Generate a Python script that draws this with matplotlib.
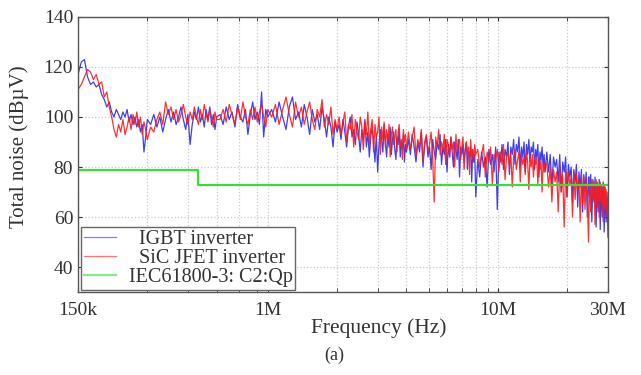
import numpy as np
import matplotlib
matplotlib.use('Agg')
import matplotlib.pyplot as plt
from matplotlib.ticker import FixedLocator, NullFormatter

# Measurement frequencies (kHz), shared by both inverters
FREQ_KHZ = [
    150, 155, 160, 165, 170, 175, 180, 185, 190, 195, 200, 205, 210, 215, 220, 225,
    230, 235, 240, 245, 250, 255, 260, 265, 270, 275, 280, 285, 290, 295, 300,
    310, 320, 330, 340, 350, 360, 370, 380, 390, 400, 410, 420, 430, 440, 450,
    460, 470, 480, 490, 500, 510, 520, 530, 540, 550, 560, 570, 580, 590, 600,
    620, 640, 660, 680, 700, 720, 740, 760, 780, 800, 820, 840, 860, 880, 900,
    920, 940, 960, 980, 1000,
    1040, 1080, 1120, 1160, 1200, 1240, 1280, 1320, 1360, 1400, 1440, 1480, 1520,
    1560, 1600, 1640, 1680, 1720, 1760, 1800, 1840, 1880, 1920, 1960, 2000,
    2040, 2080, 2120, 2160, 2200, 2240, 2280, 2320, 2360, 2400,
    2440, 2480, 2520, 2560, 2600, 2640, 2680, 2720, 2760, 2800,
    2840, 2880, 2920, 2960, 3000, 3040, 3080, 3120, 3160, 3200,
    3240, 3280, 3320, 3360, 3400, 3440, 3480, 3520, 3560, 3600,
    3640, 3680, 3720, 3760, 3800, 3840, 3880, 3920, 3960, 4000,
    4080, 4160, 4240, 4320, 4400, 4480, 4560, 4640, 4720, 4800,
    4880, 4960, 5040, 5120, 5200, 5280, 5360, 5440, 5520, 5600,
    5680, 5760, 5840, 5920, 6000, 6080, 6160, 6240, 6320, 6400,
    6480, 6560, 6640, 6720, 6800, 6880, 6960, 7040, 7120, 7200,
    7280, 7360, 7440, 7520, 7600, 7680, 7760, 7840, 7920, 8000,
    8160, 8320, 8480, 8640, 8800, 8960, 9120, 9280, 9440, 9600,
    9760, 9920, 10080, 10240, 10400, 10560, 10720, 10880, 11040, 11200,
    11360, 11520, 11680, 11840, 12000, 12160, 12320, 12480, 12640, 12800,
    12960, 13120, 13280, 13440, 13600, 13760, 13920, 14080, 14240, 14400,
    14560, 14720, 14880, 15040, 15200, 15360, 15520, 15680, 15840, 16000,
    16280, 16560, 16840, 17120, 17400, 17680, 17960, 18240, 18520, 18800,
    19080, 19360, 19640, 19920, 20200, 20480, 20760, 21040, 21320, 21600,
    21880, 22160, 22440, 22720, 23000, 23280, 23560, 23840, 24120, 24400,
    24680, 24960, 25240, 25520, 25800, 26080, 26360, 26640, 26920, 27200,
    27480, 27760, 28040, 28320, 28600, 28880, 29160, 29440, 29720, 30000,
]

# Total noise (dBuV)
IGBT_DB = [
    117, 122, 123, 116, 113, 114, 112, 113, 109, 107, 104, 106, 102, 100, 103, 101,
    99, 102, 100, 103, 98, 101, 97, 100, 96, 99, 94, 97, 86, 92, 99,
    97, 101, 96, 100, 94, 99, 103, 98, 102, 97, 100, 104, 99, 95, 101,
    89, 97, 102, 99, 104, 98, 101, 96, 103, 99, 104, 97, 101, 95, 100,
    101, 97, 104, 99, 102, 96, 105, 100, 98, 103, 93, 101, 106, 99, 102,
    97, 110, 92, 103, 100,
    103, 98, 106, 100, 95, 104, 108, 99, 102, 96, 105, 100, 93,
    103, 98, 101, 95, 104, 99, 92, 100, 96, 88, 98, 94,
    97, 91, 99, 94, 88, 96, 100, 92, 95, 89,
    98, 93, 86, 95, 91, 99, 88, 94, 84, 92,
    96, 90, 82, 93, 78, 89, 95, 91, 86, 97,
    90, 84, 93, 88, 96, 85, 91, 94, 87, 83,
    92, 89, 95, 84, 90, 87, 93, 82, 89, 86,
    91, 85, 93, 88, 82, 90, 86, 94, 80, 89,
    92, 84, 88, 79, 91, 86, 83, 90, 87, 93,
    81, 88, 85, 91, 78, 89, 84, 92, 86, 80,
    90, 87, 83, 91, 76, 88, 85, 89, 82, 87,
    90, 79, 86, 84, 88, 74, 87, 82, 85, 68,
    83, 76, 86, 80, 84, 72, 87, 81, 85, 78,
    88, 63, 86, 82, 89, 79, 87, 84, 90, 77,
    88, 85, 91, 81, 89, 86, 92, 80, 88, 84,
    90, 78, 89, 85, 91, 82, 88, 86, 90, 79,
    87, 84, 89, 76, 86, 83, 88, 80, 85, 78,
    86, 78, 85, 72, 84, 80, 83, 74, 85, 70,
    82, 78, 84, 68, 81, 76, 80, 66, 79, 74,
    81, 64, 78, 72, 79, 62, 77, 70, 78, 60,
    76, 68, 77, 58, 75, 66, 76, 56, 74, 62,
    75, 55, 73, 60, 74, 54, 72, 58, 70, 52,
]

SIC_DB = [
    111, 113, 116, 119, 118, 115, 117, 113, 114, 108, 110, 104, 100, 95, 92, 97,
    94, 99, 93, 96, 100, 95, 101, 97, 102, 96, 100, 93, 98, 95, 91,
    96, 94, 99, 102, 97, 106, 101, 104, 99, 103, 98, 101, 105, 100, 97,
    102, 99, 104, 100, 97, 103, 99, 105, 101, 98, 103, 100, 96, 102, 99,
    99, 103, 98, 105, 101, 97, 104, 99, 106, 100, 97, 103, 99, 104, 98,
    102, 105, 100, 96, 103,
    100, 105, 97, 103, 108, 101, 96, 106, 100, 104, 97, 102, 106,
    99, 95, 103, 100, 107, 96, 101, 97, 104, 93, 99, 95,
    100, 93, 98, 102, 90, 97, 95, 101, 88, 99,
    94, 91, 100, 96, 87, 98, 93, 102, 89, 95,
    99, 86, 97, 92, 94, 100, 85, 96, 91, 98,
    88, 95, 90, 97, 84, 93, 96, 89, 92, 95,
    86, 94, 97, 88, 91, 83, 95, 90, 93, 87,
    94, 87, 92, 96, 84, 91, 88, 95, 82, 90,
    93, 86, 89, 94, 83, 66, 92, 88, 95, 85,
    90, 87, 93, 81, 91, 89, 84, 92, 87, 90,
    80, 93, 86, 89, 91, 83, 88, 92, 79, 87,
    90, 85, 88, 77, 91, 84, 87, 82, 89, 85,
    87, 80, 85, 89, 76, 86, 82, 88, 73, 85,
    83, 87, 78, 86, 81, 89, 75, 84, 86, 80,
    85, 72, 84, 87, 79, 83, 86, 74, 85, 81,
    84, 77, 86, 82, 71, 84, 80, 85, 76, 83,
    81, 84, 73, 82, 79, 83, 70, 81, 78, 82,
    81, 72, 80, 66, 79, 74, 78, 62, 80, 70,
    77, 56, 79, 68, 78, 73, 76, 60, 78, 67,
    77, 71, 75, 58, 77, 65, 76, 63, 74, 69,
    50, 76, 62, 75, 67, 74, 57, 75, 64, 73,
    60, 74, 66, 72, 58, 73, 63, 71, 60, 68,
]

# IEC 61800-3 category C2 quasi-peak limit
LIMIT_FREQ_HZ = [150e3, 500e3, 30e6]
LIMIT_DB = [79, 73, 73]

X_TICKS = [150e3, 1e6, 10e6, 30e6]
X_TICK_LABELS = ['150k', '1M', '10M', '30M']
X_MINOR = [300e3, 450e3, 600e3, 750e3, 900e3, 2e6, 3e6, 4e6, 5e6, 6e6, 7e6,
           8e6, 9e6, 20e6]
Y_TICKS = [40, 60, 80, 100, 120, 140]


def main():
    plt.rcParams['font.family'] = ['Liberation Serif', 'DejaVu Serif']

    freq = np.array(FREQ_KHZ) * 1e3

    fig = plt.figure(figsize=(6.41, 3.75), dpi=100)
    ax = fig.add_axes([0.1217, 0.2213, 0.8268, 0.7334])

    ax.plot(freq, IGBT_DB, color='#2b2be8', lw=0.9, alpha=0.9,
            label='  IGBT inverter')
    ax.plot(freq, SIC_DB, color='#ff1a1a', lw=0.9, alpha=0.9,
            label='  SiC JFET inverter')
    ax.step(LIMIT_FREQ_HZ, LIMIT_DB, where='post', color='#3ddc3d', lw=1.6,
            label='IEC61800-3: C2:Qp')

    ax.set_xscale('log')
    ax.set_xlim(150e3, 30e6)
    ax.set_ylim(30, 140)

    ax.xaxis.set_major_locator(FixedLocator(X_TICKS))
    ax.set_xticklabels(X_TICK_LABELS)
    ax.xaxis.set_minor_locator(FixedLocator(X_MINOR))
    ax.xaxis.set_minor_formatter(NullFormatter())
    ax.set_yticks(Y_TICKS)

    ax.grid(True, which='both', color='#c8c8c8', linestyle=':', lw=0.9)
    ax.tick_params(which='both', direction='in', top=True, right=True,
                   labelsize=14, colors='#333333', length=3)
    ax.tick_params(axis='x', pad=7)
    for s in ax.spines.values():
        s.set_color('#555555')
        s.set_linewidth(1.0)

    ax.set_xlabel('Frequency (Hz)', fontsize=15.5, color='#333333')
    ax.xaxis.set_label_coords(0.567, -0.095)
    ax.set_ylabel('Total noise (dBµV)', fontsize=15, color='#333333')
    ax.yaxis.set_label_coords(-0.092, 0.53)

    leg = ax.legend(loc='lower left', bbox_to_anchor=(0.006, 0.006),
                    borderaxespad=0, fontsize=14.5, labelspacing=0.0,
                    handlelength=1.6, handletextpad=0.6, borderpad=0.15,
                    fancybox=False, framealpha=1, edgecolor='#666666')
    for t in leg.get_texts():
        t.set_color('#333333')
    for line in leg.get_lines():
        line.set_alpha(0.6)

    fig.text(0.522, 0.052, '(a)', ha='center', va='center', fontsize=13,
             color='#333333')

    fig.savefig('out.png', dpi=100)


if __name__ == '__main__':
    main()
